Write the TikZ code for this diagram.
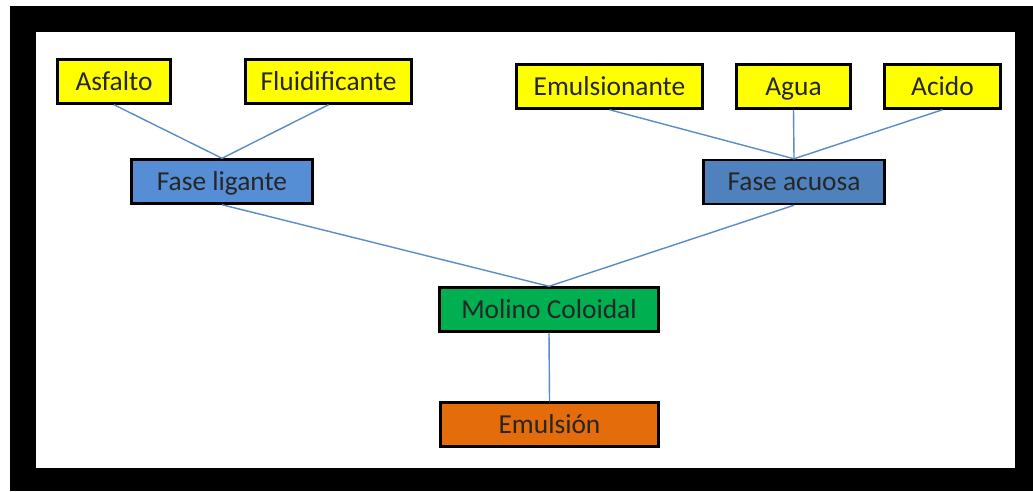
\documentclass[tikz,border=0pt]{standalone}
\usepackage{fontspec}
\setmainfont{Carlito}
\usepackage{tikz}
\usetikzlibrary{positioning}
\usepackage{xcolor}
\definecolor{amarillo}{HTML}{FFFF00}
\definecolor{azulclaro}{HTML}{558ED5}
\definecolor{azul}{HTML}{4F81BD}
\definecolor{verde}{HTML}{00B050}
\definecolor{naranja}{HTML}{E46C0A}
\definecolor{linea}{HTML}{5B8BC9}

\begin{document}
\begin{tikzpicture}[
  x=0.02cm, y=-0.02cm,
  every node/.style={font=\fontsize{15.6}{18}\selectfont},
  caja/.style={rectangle, draw=black, line width=1.4pt, inner sep=0pt,
               minimum height=0.88cm, text height=10pt, text depth=0pt,
               text=black!85},
  insumo/.style={caja, fill=amarillo},
  enlace/.style={draw=linea, line width=0.8pt},
]
  % frame
  \useasboundingbox (0,0) rectangle (1033,491);
  \fill[white] (0,0) rectangle (1033,491);
  \fill[black] (10,6) rectangle (1033,491);
  \fill[white] (36,32) rectangle (1015,468);
  % raw materials
  \node[insumo, minimum width=2.26cm] (asfalto) at (114,81.5) {Asfalto};
  \node[insumo, minimum width=3.32cm] (fluid) at (328.5,81.5) {Fluidificante};
  \node[insumo, minimum width=3.72cm] (emuls) at (609.5,86.5) {Emulsionante};
  \node[insumo, minimum width=2.28cm] (agua) at (793.5,86.5) {Agua};
  \node[insumo, minimum width=2.32cm] (acido) at (942.5,86.5) {Acido};
  % phases
  \node[caja, fill=azulclaro, minimum width=3.62cm] (ligante) at (222,181.5) {Fase ligante};
  \node[caja, fill=azul, minimum width=3.62cm] (acuosa) at (794,182) {Fase acuosa};
  % mill and product
  \node[caja, fill=verde, minimum width=4.38cm] (molino) at (549,309.5) {Molino Coloidal};
  \node[caja, fill=naranja, minimum width=4.36cm] (emulsion) at (549.5,424.5) {Emulsión};
  % links
  \draw[enlace] (asfalto.south) -- (ligante.north);
  \draw[enlace] (fluid.south) -- (ligante.north);
  \draw[enlace] (emuls.south) -- (acuosa.north);
  \draw[enlace] (agua.south) -- (acuosa.north);
  \draw[enlace] (acido.south) -- (acuosa.north);
  \draw[enlace] (ligante.south) -- (molino.north);
  \draw[enlace] (acuosa.south) -- (molino.north);
  \draw[enlace] (molino.south) -- (emulsion.north);
\end{tikzpicture}
\end{document}
